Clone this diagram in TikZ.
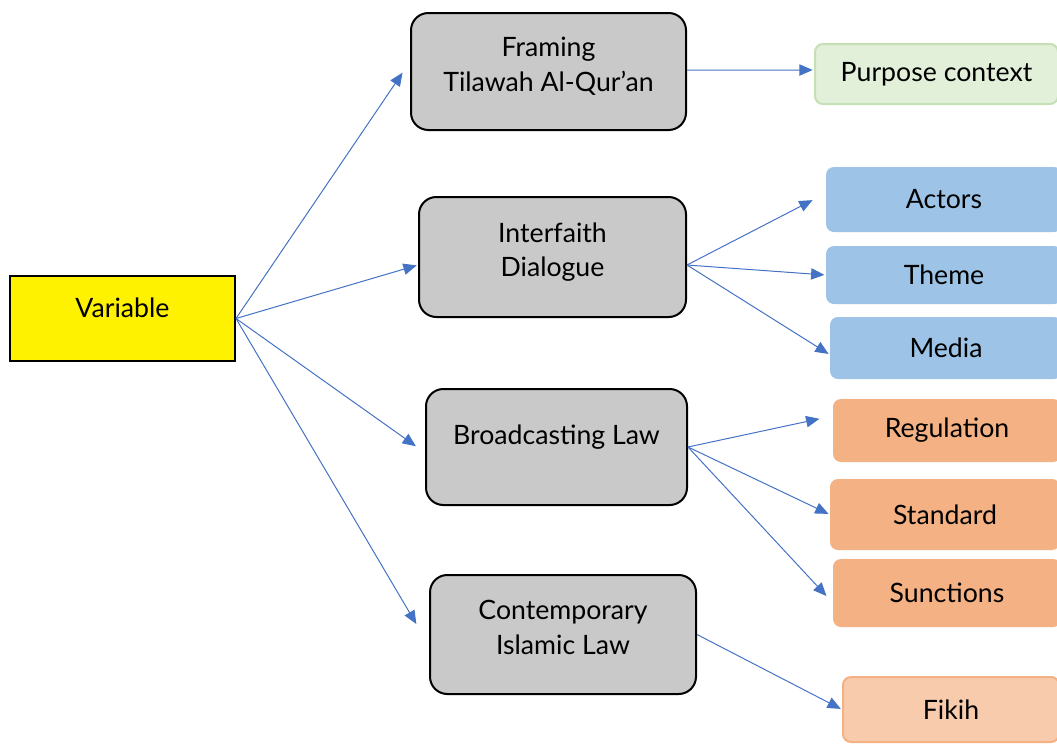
\documentclass[tikz,border=0pt]{standalone}
\usepackage{fontspec}
\setmainfont{Lato}
\usepackage{tikz}
\usetikzlibrary{arrows.meta, positioning}

\definecolor{linkblue}{HTML}{4472C4}
\definecolor{boxgray}{HTML}{C9C9C9}
\definecolor{boxblue}{HTML}{9DC3E6}
\definecolor{boxorange}{HTML}{F4B183}
\definecolor{boxpeach}{HTML}{F8CBAD}
\definecolor{boxgreen}{HTML}{E2F0D9}
\definecolor{linegreen}{HTML}{C5E0B4}

\begin{document}
\begin{tikzpicture}[x=0.75pt, y=-0.75pt, >={Triangle[length=10pt,width=8.5pt]},
    every node/.style={font=\fontsize{20}{26}\selectfont, align=center, inner sep=0pt},
    mainbox/.style={draw=black, line width=1.5pt, fill=boxgray, rounded corners=13pt, text depth=11pt},
    subbox/.style={rounded corners=6pt},
    link/.style={->, linkblue, line width=0.75pt, shorten >=1pt}]
    \useasboundingbox (0,0) rectangle (1057,743);
    \clip (0,0) rectangle (1057,743);

    % root
    \node[draw=black, line width=1.5pt, fill=yellow, minimum width=168.75pt, minimum height=63.75pt, text depth=16pt] (var) at (122.5,318.5) {Variable};

    % middle column
    \node[mainbox, minimum width=206.25pt, minimum height=87.75pt] (frm) at (548.5,71.5) {Framing\\Tilawah Al-Qur’an};
    \node[mainbox, minimum width=200.25pt, minimum height=90pt] (ifd) at (552.5,257) {Interfaith\\Dialogue};
    \node[mainbox, minimum width=195.75pt, minimum height=87pt, text depth=18pt] (bcl) at (556.5,447) {Broadcasting Law};
    \node[mainbox, minimum width=199.5pt, minimum height=89.25pt] (cil) at (563,634.5) {Contemporary\\Islamic Law};

    % right column
    \node[subbox, draw=linegreen, line width=1.5pt, fill=boxgreen, minimum width=182.25pt, minimum height=45pt] (pur) at (936.5,74) {Purpose context};
    \node[subbox, fill=boxblue, minimum width=177pt, minimum height=48.75pt] (act) at (944,199.5) {Actors};
    \node[subbox, fill=boxblue, minimum width=177pt, minimum height=43.5pt] (thm) at (944,275) {Theme};
    \node[subbox, fill=boxblue, minimum width=174pt, minimum height=46.5pt] (med) at (946,348) {Media};
    \node[subbox, fill=boxorange, minimum width=171pt, minimum height=47.25pt] (reg) at (947,430.5) {Regulation};
    \node[subbox, fill=boxorange, minimum width=172.5pt, minimum height=53.25pt] (std) at (945,514.5) {Standard};
    \node[subbox, fill=boxorange, minimum width=171pt, minimum height=51pt] (sun) at (947,593) {Sunctions};
    \node[subbox, draw=boxorange, line width=1.5pt, fill=boxpeach, minimum width=162pt, minimum height=48.75pt] (fik) at (951,709.5) {Fikih};

    % arrows from the root
    \draw[link] (var.east) -- ([xshift=-5pt]frm.west);
    \draw[link] (var.east) -- ([yshift=-6pt]ifd.west);
    \draw[link] (var.east) -- ([xshift=-6pt]bcl.west);
    \draw[link] (var.east) -- ([xshift=-9pt,yshift=7pt]cil.west);

    % arrows to the right column
    \draw[link] ([yshift=1pt]frm.east) -- ([yshift=3pt]pur.west);
    \coordinate (ifdout) at ([yshift=-6pt]ifd.east);
    \draw[link] (ifdout) -- ([xshift=-9pt]act.west);
    \draw[link] (ifdout) -- (thm.west);
    \draw[link] (ifdout) -- ([yshift=-5pt]med.west);
    \draw[link] (bcl.east) -- ([xshift=-9pt,yshift=9pt]reg.west);
    \draw[link] (bcl.east) -- (std.west);
    \draw[link] (bcl.east) -- ([xshift=-4pt,yshift=-3pt]sun.west);
    \draw[link] (cil.east) -- (fik.west);
\end{tikzpicture}
\end{document}
